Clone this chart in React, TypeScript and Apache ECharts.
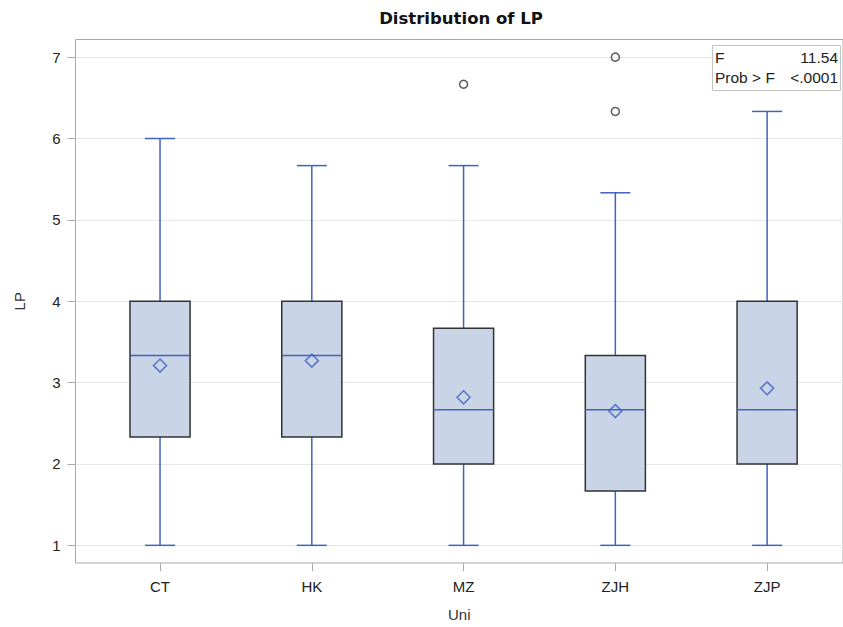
import React, { useEffect, useRef } from "react";
import * as echarts from "echarts";

const categories = ["CT", "HK", "MZ", "ZJH", "ZJP"];
const whiskerLow = [1, 1, 1, 1, 1];
const q1 = [2.333, 2.333, 2, 1.667, 2];
const median = [3.333, 3.333, 2.667, 2.667, 2.667];
const q3 = [4, 4, 3.667, 3.333, 4];
const whiskerHigh = [6, 5.667, 5.667, 5.333, 6.333];
const means = [3.21, 3.27, 2.82, 2.65, 2.93];
const outlierCategory = ["MZ", "ZJH", "ZJH"];
const outlierValues = [6.667, 7, 6.333];
const yTicks = [1, 2, 3, 4, 5, 6, 7];
const statLabels = ["F", "Prob > F"];
const statValues = ["11.54", "<.0001"];

const Y_MIN = 0.783;
const Y_MAX = 7.217;
const BLUE = "#3f63c0";
const FONT = "Liberation Sans, Arial, sans-serif";

export default function App() {
  const ref = useRef<HTMLDivElement>(null);
  useEffect(() => {
    if (!ref.current) return;
    const chart = echarts.init(ref.current, null, { renderer: "svg" });
    const catIndex = categories.map((_, i) => i);
    const boxData = categories.map((c, i) => [i, whiskerLow[i], q1[i], median[i], q3[i], whiskerHigh[i]]);
    const option: any = {
      animation: false,
      backgroundColor: "#ffffff",
      textStyle: { fontFamily: FONT },
      grid: {
        left: 75.5,
        right: 0,
        top: 39.5,
        bottom: 63,
        show: true,
        borderColor: "#a9a9a9",
        borderWidth: 1,
        backgroundColor: "transparent",
      },
      xAxis: {
        type: "value",
        min: -0.557,
        max: 4.5,
        name: "Uni",
        nameLocation: "middle",
        nameGap: 44,
        nameTextStyle: { fontSize: 15, color: "#333", fontFamily: FONT },
        axisLine: { show: false, onZero: false },
        axisTick: { show: true, length: 8, customValues: catIndex, lineStyle: { color: "#a9a9a9" } },
        axisLabel: {
          fontSize: 15,
          color: "#222",
          margin: 16,
          customValues: catIndex,
          fontFamily: FONT,
          formatter: (v: number) => categories[Math.round(v)] ?? "",
        },
        splitLine: { show: false },
      },
      yAxis: {
        type: "value",
        min: Y_MIN,
        max: Y_MAX,
        name: "LP",
        nameLocation: "middle",
        nameGap: 49,
        nameRotate: 90,
        nameTextStyle: { fontSize: 15, color: "#333", fontFamily: FONT },
        axisLine: { show: false, onZero: false },
        axisTick: { show: true, length: 8, customValues: yTicks, lineStyle: { color: "#a9a9a9" } },
        axisLabel: { fontSize: 15, color: "#222", margin: 15, customValues: yTicks, fontFamily: FONT },
        splitLine: { show: true, lineStyle: { color: "#e6e6e6", width: 1 } },
      },
      graphic: [
        {
          type: "text",
          x: 461,
          y: 18,
          style: {
            text: "Distribution of LP",
            fontSize: 16.5,
            fontWeight: "bold",
            fontFamily: "DejaVu Sans, sans-serif",
            fill: "#111",
            align: "center",
            verticalAlign: "middle",
          },
        },
        {
          type: "rect",
          shape: { x: 712.5, y: 45.5, width: 128, height: 45 },
          style: { fill: "#ffffff", stroke: "#c4c4c4", lineWidth: 1 },
          z: 100,
        },
        ...statLabels.map((t, i) => ({
          type: "text",
          x: 715,
          y: 57 + i * 20,
          z: 101,
          style: { text: t, fontSize: 15.5, fontFamily: FONT, fill: "#222", align: "left", verticalAlign: "middle" },
        })),
        ...statValues.map((t, i) => ({
          type: "text",
          x: 838,
          y: 57 + i * 20,
          z: 101,
          style: { text: t, fontSize: 15.5, fontFamily: FONT, fill: "#222", align: "right", verticalAlign: "middle" },
        })),
      ],
      series: [
        {
          type: "custom",
          data: boxData,
          encode: { x: 0, y: [1, 2, 3, 4, 5] },
          renderItem: (params: any, api: any) => {
            const idx = api.value(0);
            const unit = api.size([1, 0])[0];
            const x = api.coord([idx, Y_MIN])[0];
            const hw = unit * 0.198;
            const cw = unit * 0.099;
            const yLow = api.coord([idx, api.value(1)])[1];
            const yQ1 = api.coord([idx, api.value(2)])[1];
            const yMed = api.coord([idx, api.value(3)])[1];
            const yQ3 = api.coord([idx, api.value(4)])[1];
            const yHigh = api.coord([idx, api.value(5)])[1];
            const ws = { stroke: BLUE, lineWidth: 1.5 };
            return {
              type: "group",
              children: [
                { type: "line", shape: { x1: x, y1: yQ1, x2: x, y2: yLow }, style: ws },
                { type: "line", shape: { x1: x, y1: yQ3, x2: x, y2: yHigh }, style: ws },
                { type: "line", shape: { x1: x - cw, y1: yLow, x2: x + cw, y2: yLow }, style: ws },
                { type: "line", shape: { x1: x - cw, y1: yHigh, x2: x + cw, y2: yHigh }, style: ws },
                {
                  type: "rect",
                  shape: { x: x - hw, y: yQ3, width: hw * 2, height: yQ1 - yQ3 },
                  style: { fill: "#c9d5e6", stroke: "#333333", lineWidth: 1.5 },
                },
                { type: "line", shape: { x1: x - hw, y1: yMed, x2: x + hw, y2: yMed }, style: ws },
              ],
            };
          },
          z: 2,
        },
        {
          type: "scatter",
          data: categories.map((c, i) => [i, means[i]]),
          symbol: "diamond",
          symbolSize: [13, 13],
          itemStyle: { color: "rgba(0,0,0,0)", borderColor: BLUE, borderWidth: 1.6 },
          z: 5,
        },
        {
          type: "scatter",
          data: outlierCategory.map((c, i) => [categories.indexOf(c), outlierValues[i]]),
          symbol: "circle",
          symbolSize: 8,
          itemStyle: { color: "rgba(0,0,0,0)", borderColor: "#333333", borderWidth: 1.5 },
          z: 5,
        },
      ],
    };
    chart.setOption(option);
    return () => chart.dispose();
  }, []);
  return (
    <div
      ref={ref}
      style={{ position: "fixed", left: 0, top: 0, width: 843, height: 627, background: "#fff" }}
    />
  );
}
